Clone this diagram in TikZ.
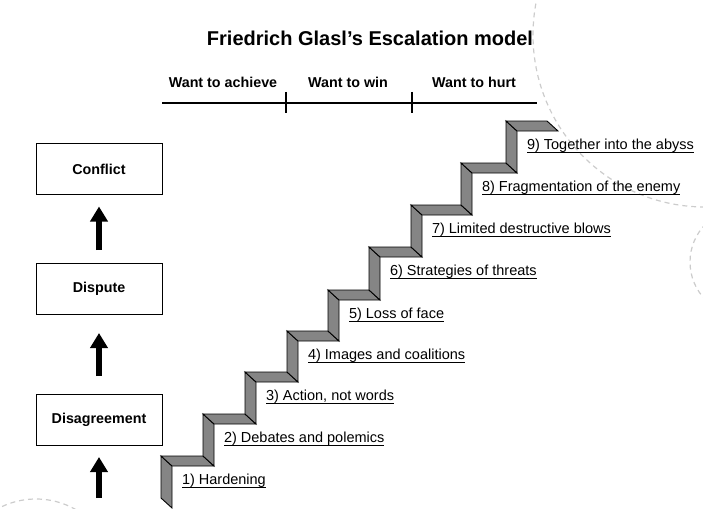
\documentclass[tikz,border=0pt]{standalone}
\usepackage{fontspec}
\setmainfont{Liberation Sans}
\usetikzlibrary{arrows.meta}

% text with a rule a little below its baseline
\newsavebox{\ulsave}
\newcommand{\undertext}[1]{\sbox{\ulsave}{#1}\rlap{\rule[-3.6pt]{\wd\ulsave}{0.9pt}}\usebox{\ulsave}}

\begin{document}
\begin{tikzpicture}[x=1pt,y=-1pt,
  every node/.style={inner sep=0pt, outer sep=0pt},
  titletext/.style={font=\bfseries\fontsize{20}{24}\selectfont, anchor=base},
  phase/.style={font=\bfseries\fontsize{14.3}{16}\selectfont, anchor=base},
  phaserule/.style={line width=1.2pt},
  stagebox/.style={draw, line width=1pt, minimum width=126pt, minimum height=51pt,
    font=\bfseries\fontsize{14.3}{16}\selectfont},
  upArrow/.style={line width=5.5pt, -{Triangle[width=17pt,length=15pt]}},
  stairface/.style={fill=black!48, draw=black, line width=0.9pt, line join=miter},
  steplabel/.style={anchor=base west, font=\fontsize{14.5}{16}\selectfont},
  bgarc/.style={draw=black!20, line width=1.2pt, dash pattern=on 5pt off 4pt}]

\useasboundingbox (0,0) rectangle (703,508);

% faint dashed circles in the background
\begin{scope}
  \clip (0,0) rectangle (703,508);
  \draw[bgarc] (705,35) circle[radius=172];
  \draw[bgarc] (744,262) circle[radius=54];
  \draw[bgarc] (36,579) circle[radius=80];
\end{scope}

% title
\node[titletext] (title) at (370,46) {Friedrich Glasl’s Escalation model};

% phases of the escalation
\node[phase] (ph1) at (223,88) {Want to achieve};
\node[phase] (ph2) at (348,88) {Want to win};
\node[phase] (ph3) at (474,88) {Want to hurt};
\coordinate (ruleL) at (162,103);
\coordinate (ruleR) at (537,103);
\coordinate (tickAt) at (286,92);
\coordinate (tickAb) at (286,113);
\coordinate (tickBt) at (412,92);
\coordinate (tickBb) at (412,113);
\draw[phaserule] (ruleL) -- (ruleR);
\draw[phaserule] (tickAt) -- (tickAb);
\draw[phaserule] (tickBt) -- (tickBb);

% conflict levels on the left
\node[stagebox] (conflict) at (99,169) {Conflict};
\node[stagebox] (dispute) at (99,288.5) {Dispute};
\node[stagebox] (disagree) at (99,419.5) {Disagreement};
\coordinate (base) at (99,498);

\draw[upArrow, shorten >=12pt] (base) -- (disagree.south);
\draw[upArrow, shorten <=18pt, shorten >=19pt] (disagree.north) -- (dispute.south);
\draw[upArrow, shorten <=13pt, shorten >=12pt] (dispute.north) -- (conflict.south);

% staircase: riser x, tread y, next riser x, previous tread y
\foreach \x/\y/\nx/\py in {161/456/203/498, 203/414/245/456, 245/372/287/414,
    287/331/328/372, 328/290/369/331, 369/247/411/290, 411/205/461/247,
    461/163/506/205, 506/121/547/163} {
  \draw[stairface] (\x,\y) -- ({\x+11},{\y+10}) -- ({\x+11},{\py+10}) -- (\x,\py) -- cycle;
  \draw[stairface] (\x,\y) -- (\nx,\y) -- ({\nx+11},{\y+10}) -- ({\x+11},{\y+10}) -- cycle;
}

% stage labels
\node[steplabel] (s1) at (182,484) {\undertext{1) Hardening}};
\node[steplabel] (s2) at (224,442) {\undertext{2) Debates and polemics}};
\node[steplabel] (s3) at (266,400) {\undertext{3) Action, not words}};
\node[steplabel] (s4) at (308,359) {\undertext{4) Images and coalitions}};
\node[steplabel] (s5) at (349,318) {\undertext{5) Loss of face}};
\node[steplabel] (s6) at (390,275) {\undertext{6) Strategies of threats}};
\node[steplabel] (s7) at (432,233) {\undertext{7) Limited destructive blows}};
\node[steplabel] (s8) at (482,191) {\undertext{8) Fragmentation of the enemy}};
\node[steplabel] (s9) at (527,149) {\undertext{9) Together into the abyss}};

\end{tikzpicture}
\end{document}
